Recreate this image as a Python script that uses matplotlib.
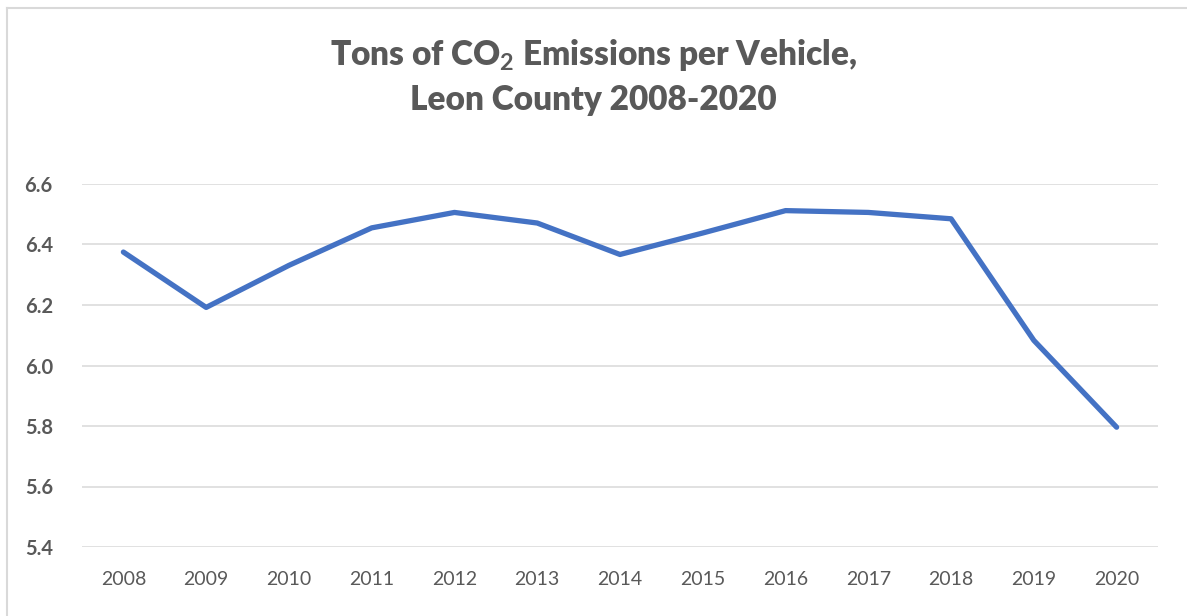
import matplotlib
matplotlib.use("Agg")
import matplotlib.pyplot as plt
from matplotlib.lines import Line2D

years = ["2008", "2009", "2010", "2011", "2012", "2013", "2014",
         "2015", "2016", "2017", "2018", "2019", "2020"]
emissions = [6.375, 6.192, 6.331, 6.455, 6.506, 6.471, 6.367,
             6.438, 6.512, 6.506, 6.485, 6.083, 5.796]
y_ticks = [5.4, 5.6, 5.8, 6.0, 6.2, 6.4, 6.6]

plt.rcParams['font.family'] = ['Lato', 'DejaVu Sans']
plt.rcParams['mathtext.fontset'] = 'custom'
plt.rcParams['mathtext.rm'] = 'Lato:bold'
plt.rcParams['mathtext.it'] = 'Lato:bold'
plt.rcParams['mathtext.bf'] = 'Lato:bold'

W, H = 1187, 616
fig = plt.figure(figsize=(W / 100, H / 100), dpi=100)
fig.patch.set_facecolor('white')

left, right = 82 / W, 1158 / W
bottom, top = 1 - 547 / H, 1 - 184 / H
ax = fig.add_axes([left, bottom, right - left, top - bottom])

x = list(range(len(years)))
ax.plot(x, emissions, color='#4472C4', linewidth=3.8,
        solid_capstyle='round', solid_joinstyle='round', zorder=3)

ax.set_xlim(-0.5, len(years) - 0.5)
ax.set_ylim(5.4, 6.6)
ax.set_yticks(y_ticks)
ax.set_yticklabels([f"{v:.1f}" for v in y_ticks], fontsize=14.5,
                   fontweight='bold', color='#595959')
ax.set_xticks(x)
ax.set_xticklabels(years, fontsize=14, color='#595959')
ax.tick_params(axis='both', length=0)
ax.tick_params(axis='y', pad=21)
ax.tick_params(axis='x', pad=17)
ax.grid(axis='y', color='#D9D9D9', linewidth=1.1, zorder=0)
ax.set_axisbelow(True)
for s in ax.spines.values():
    s.set_visible(False)

fig.text(0.5, 1 - 55 / H, r"Tons of CO$_2$ Emissions per Vehicle,",
         ha='center', va='center', fontsize=24, fontweight='heavy',
         color='#595959')
fig.text(0.5, 1 - 100 / H, "Leon County 2008-2020",
         ha='center', va='center', fontsize=24, fontweight='heavy',
         color='#595959')

# chart-area border
fig.add_artist(Line2D([7 / W, 7 / W], [0, 1 - 8 / H], transform=fig.transFigure,
                      color='#D9D9D9', linewidth=1.5))
fig.add_artist(Line2D([7 / W, 1], [1 - 8 / H, 1 - 8 / H], transform=fig.transFigure,
                      color='#D9D9D9', linewidth=1.5))

fig.savefig("out.png", dpi=100, facecolor='white')
